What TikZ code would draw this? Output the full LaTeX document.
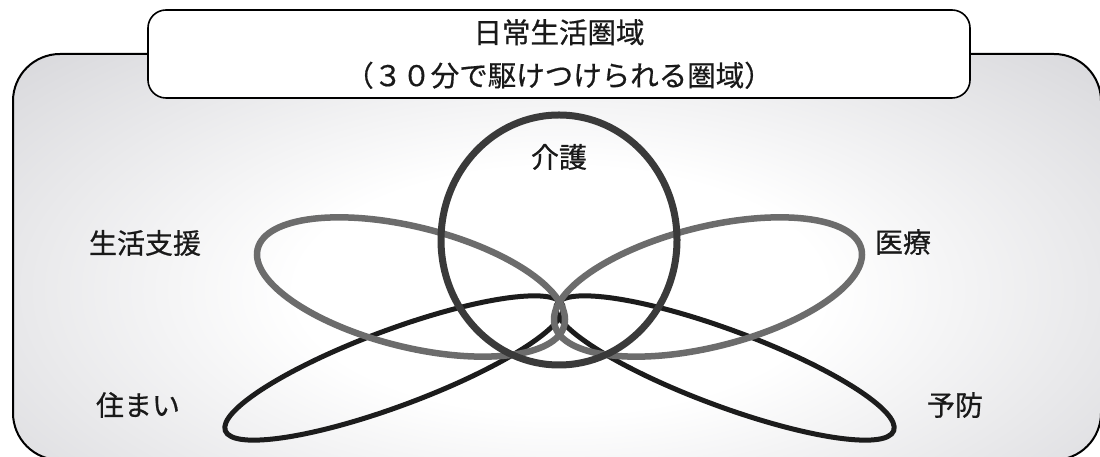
\documentclass[tikz,border=0pt]{standalone}
\usepackage{fontspec}
\newfontfamily\cjk[FakeBold=0.6]{Noto Sans CJK JP}
\definecolor{bggray}{RGB}{200,200,205}
\definecolor{ringdark}{RGB}{58,58,58}
\definecolor{ringgray}{RGB}{108,108,108}
\definecolor{ringblack}{RGB}{28,28,28}
\definecolor{txt}{RGB}{25,25,25}
\pgfdeclareradialshading{glow}{\pgfpoint{0bp}{0bp}}{color(0bp)=(white); color(7bp)=(white); color(25bp)=(bggray); color(50bp)=(bggray)}
\tikzset{
  lbl/.style={text=txt, font=\cjk\fontsize{28}{32}\selectfont, inner sep=0pt},
  ringA/.style={draw=ringdark, line width=7pt},
  ringB/.style={draw=ringgray, line width=6.5pt},
  ringC/.style={draw=ringblack, line width=5pt},
  titlebox/.style={draw=black, line width=1.6pt, fill=white, rounded corners=18pt,
    minimum width=822pt, minimum height=88pt, inner sep=0pt, align=center,
    text=txt, font=\cjk\fontsize{28.5}{43}\selectfont}
}
\begin{document}
\begin{tikzpicture}[x=1pt,y=1pt]
\useasboundingbox (0,0) rectangle (1100,457);
% background area
\begin{scope}
  \clip[rounded corners=47pt] (13,-3) rectangle (1101,403);
  \fill[bggray] (0,-10) rectangle (1110,410);
  \shade[shading=glow] (-380,-273) rectangle (1500,607);
\end{scope}
\draw[line width=2pt, rounded corners=47pt] (13,-3) rectangle (1101,403);
% title
\node[titlebox] (title) at (559,403) {日常生活圏域\\（３０分で駆けつけられる圏域）};
% rings
\draw[ringC, rotate around={20.4:(394,89)}] (394,89) ellipse [x radius=180pt, y radius=38pt];
\draw[ringC, rotate around={-20.4:(725,89)}] (725,89) ellipse [x radius=180pt, y radius=38pt];
\draw[ringB, rotate around={-14:(411,170)}] (411,170) ellipse [x radius=158pt, y radius=60pt];
\draw[ringB, rotate around={14:(708,170)}] (708,170) ellipse [x radius=158pt, y radius=60pt];
\draw[ringA] (559,217) ellipse [x radius=118pt, y radius=125pt];
% labels
\node[lbl] (kaigo) at (559,300) {介護};
\node[lbl] (seikatsu) at (145,214) {生活支援};
\node[lbl] (iryo) at (903,215) {医療};
\node[lbl] (sumai) at (138,52) {住まい};
\node[lbl] (yobo) at (955,52) {予防};
\end{tikzpicture}
\end{document}
